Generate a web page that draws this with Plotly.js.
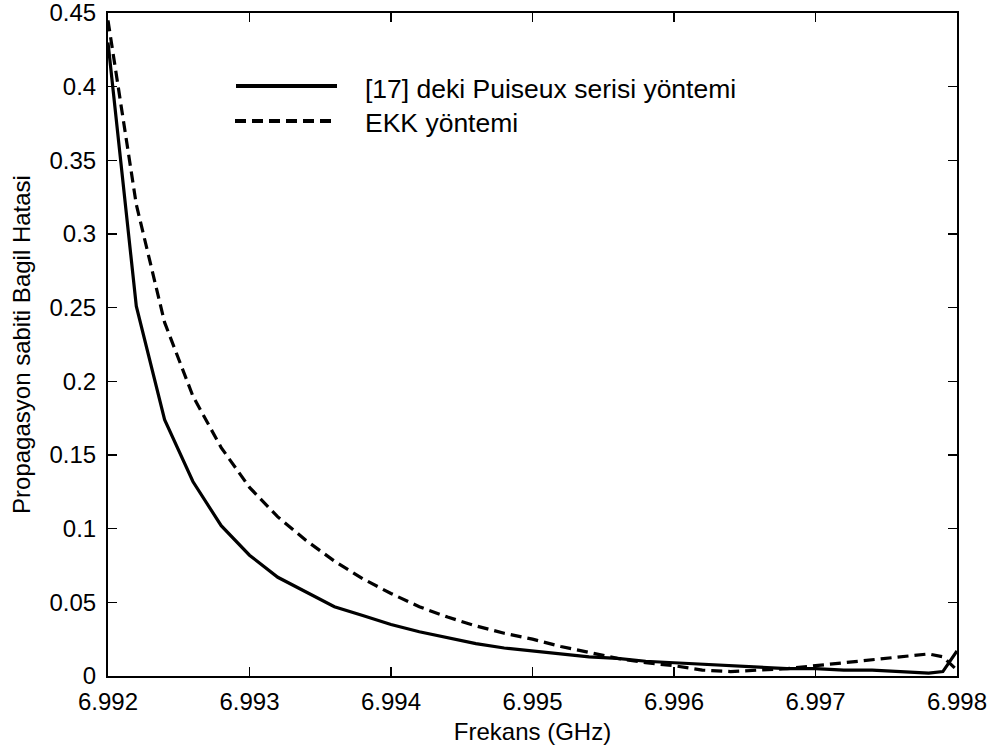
<!DOCTYPE html>
<html>
<head>
<meta charset="utf-8">
<script src="https://cdn.plot.ly/plotly-3.0.1.min.js"></script>
<style>html,body{margin:0;padding:0;background:#fff;}#chart{width:996px;height:749px;}</style>
</head>
<body>
<div id="chart"></div>
<script>
const freq = [6.992, 6.9922, 6.9924, 6.9926, 6.9928, 6.993, 6.9932, 6.9934, 6.9936, 6.9938,
  6.994, 6.9942, 6.9944, 6.9946, 6.9948, 6.995, 6.9952, 6.9954, 6.9956, 6.9958,
  6.996, 6.9962, 6.9964, 6.9966, 6.9968, 6.997, 6.9972, 6.9974, 6.9976, 6.9978, 6.9979, 6.998];
const puiseux = [0.43, 0.251, 0.174, 0.132, 0.102, 0.082, 0.067, 0.057, 0.047, 0.041,
  0.035, 0.030, 0.026, 0.022, 0.019, 0.017, 0.015, 0.013, 0.012, 0.010,
  0.009, 0.008, 0.007, 0.006, 0.005, 0.005, 0.004, 0.004, 0.003, 0.002, 0.003, 0.017];
const ekk = [0.445, 0.32, 0.24, 0.19, 0.155, 0.128, 0.108, 0.092, 0.078, 0.066,
  0.056, 0.047, 0.040, 0.034, 0.029, 0.025, 0.020, 0.016, 0.012, 0.009,
  0.007, 0.004, 0.003, 0.004, 0.005, 0.007, 0.009, 0.011, 0.013, 0.015, 0.013, 0.004];
const seriesNames = ["[17] deki Puiseux serisi yöntemi", "EKK yöntemi"];
const xTicks = [6.992, 6.993, 6.994, 6.995, 6.996, 6.997, 6.998];
const yTicks = [0, 0.05, 0.1, 0.15, 0.2, 0.25, 0.3, 0.35, 0.4, 0.45];
const yTickText = ["0", "0.05", "0.1", "0.15", "0.2", "0.25", "0.3", "0.35", "0.4", "0.45"];

const font = "Liberation Sans, Arial, sans-serif";
const dashPat = "11px,6px";
const T = 13, B = 676, L = 108, R = 957;
const PH = B - T, PW = R - L;
const traces = [
  {x: freq, y: puiseux, mode: "lines", name: seriesNames[0], line: {color: "#000", width: 3.2}, showlegend: false},
  {x: freq, y: ekk, mode: "lines", name: seriesNames[1], line: {color: "#000", width: 3.2, dash: dashPat}, showlegend: false}
];
const axisCommon = {
  showgrid: false, zeroline: false, showline: true, linecolor: "#000", linewidth: 2,
  mirror: "ticks", ticks: "inside", ticklen: 9, tickcolor: "#000", tickwidth: 1.2,
  tickfont: {family: font, size: 24, color: "#000"}, ticklabeloverflow: "allow"
};
const layout = {
  width: 996, height: 749,
  margin: {l: L, r: 996 - R, t: T, b: 749 - B},
  paper_bgcolor: "#fff", plot_bgcolor: "#fff",
  font: {family: font, color: "#000"},
  xaxis: Object.assign({}, axisCommon, {
    range: [6.992, 6.998], tickvals: xTicks, ticktext: xTicks.map(v => v.toFixed(3)),
    ticklabelstandoff: 3,
    title: {text: "Frekans (GHz)", font: {family: font, size: 24, color: "#000"}, standoff: 9}
  }),
  yaxis: Object.assign({}, axisCommon, {
    range: [0, 0.45], tickvals: yTicks, ticktext: yTickText,
    ticklabelstandoff: 5,
    title: {text: "Propagasyon sabiti Bagil Hatasi", font: {family: font, size: 24, color: "#000"}, standoff: 12}
  }),
  shapes: [
    {type: "line", xref: "paper", yref: "paper", x0: (236-L)/PW, x1: (337-L)/PW, y0: (B-86)/PH, y1: (B-86)/PH, line: {color: "#000", width: 4}},
    {type: "line", xref: "paper", yref: "paper", x0: (235-L)/PW, x1: (336-L)/PW, y0: (B-121)/PH, y1: (B-121)/PH, line: {color: "#000", width: 4, dash: dashPat}}
  ],
  annotations: [
    {xref: "paper", yref: "paper", x: (363-L)/PW, y: (B-89)/PH, xanchor: "left", yanchor: "middle", showarrow: false, text: seriesNames[0], font: {family: font, size: 26.5, color: "#000"}},
    {xref: "paper", yref: "paper", x: (363-L)/PW, y: (B-123)/PH, xanchor: "left", yanchor: "middle", showarrow: false, text: seriesNames[1], font: {family: font, size: 26.5, color: "#000"}}
  ],
  showlegend: false
};
Plotly.newPlot("chart", traces, layout, {displayModeBar: false, staticPlot: true});
</script>
</body>
</html>
